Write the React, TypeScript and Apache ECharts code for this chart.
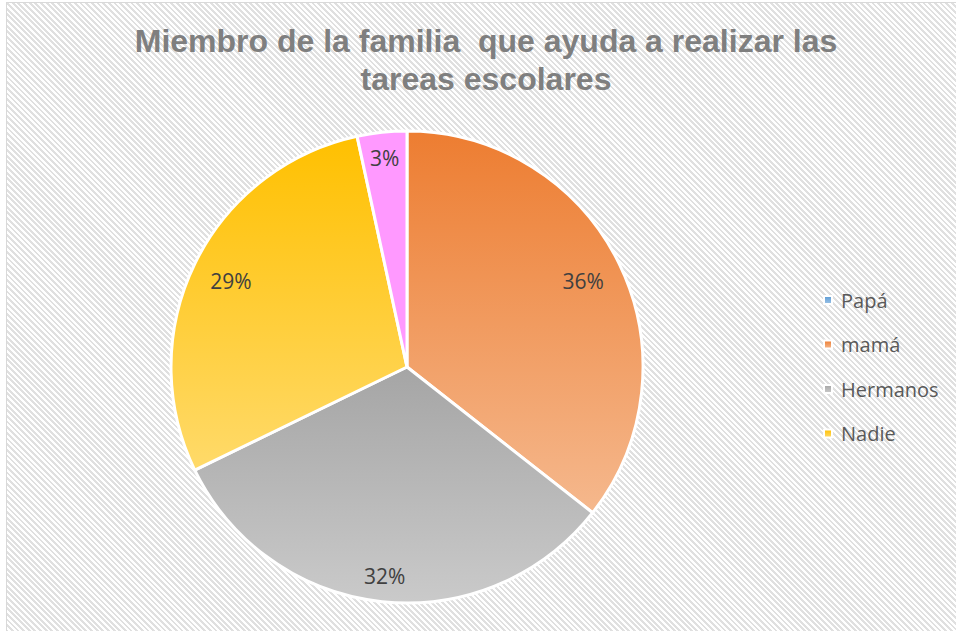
import React, { useEffect, useRef } from "react";
import * as echarts from "echarts";

const titleText = "Miembro de la familia  que ayuda a realizar las\ntareas escolares";
const categories = ["Papá", "mamá", "Hermanos", "Nadie", "Otros"];
const legendNames = ["Papá", "mamá", "Hermanos", "Nadie"];
const values = [0, 21, 19, 17, 2];
const topColors = ["#5B9BD5", "#ED7D31", "#A5A5A5", "#FFC000", "#FF99FF"];
const bottomColors = ["#9DC3E6", "#F5B88D", "#CACACA", "#FFDA6A", "#FF99FF"];
const labelRadiusFactor = [0, 0.83, 0.89, 0.83, 0.89];

export default function App() {
  const ref = useRef<HTMLDivElement>(null);
  useEffect(() => {
    if (!ref.current) return;
    const chart = echarts.init(ref.current, undefined, { renderer: "svg" });
    const cx = 407;
    const cy = 367;
    const R = 236;
    const total = values.reduce((a, b) => a + b, 0);
    const data = categories.map((name, i) => ({
      name,
      value: values[i],
      itemStyle: {
        color: {
          type: "linear",
          x: 0,
          y: 0,
          x2: 0,
          y2: 1,
          colorStops: [
            { offset: 0, color: topColors[i] },
            { offset: 1, color: bottomColors[i] },
          ],
        },
      },
      label: values[i] === 0 ? { show: false } : undefined,
    }));
    chart.setOption({
      animation: false,
      backgroundColor: "transparent",
      title: {
        text: titleText,
        left: 486,
        top: 22,
        textAlign: "center",
        padding: 0,
        textStyle: {
          fontFamily: "Liberation Sans",
          fontWeight: "bold",
          fontSize: 32,
          lineHeight: 38,
          color: "#7F7F7F",
        },
      },
      legend: {
        data: legendNames,
        orient: "vertical",
        left: 818,
        top: 284,
        itemWidth: 8,
        itemHeight: 8,
        itemGap: 22.5,
        icon: "rect",
        textStyle: {
          fontFamily: "Open Sans",
          fontSize: 20,
          lineHeight: 22,
          color: "#595959",
          padding: [0, 0, 0, 4],
        },
      },
      series: [
        {
          type: "pie",
          center: [cx, cy],
          radius: [0, R],
          startAngle: 90,
          clockwise: true,
          data,
          itemStyle: { borderColor: "#FFFFFF", borderWidth: 3 },
          label: {
            show: true,
            position: "inside",
            formatter: (p: any) => Math.round(p.percent) + "%",
            fontFamily: "Open Sans",
            fontSize: 21,
            color: "#404040",
          },
          labelLine: { show: false },
          labelLayout: (params: any) => {
            const i = params.dataIndex;
            let before = 0;
            for (let j = 0; j < i; j++) before += values[j];
            const mid = ((before + values[i] / 2) / total) * Math.PI * 2;
            const d = labelRadiusFactor[i] * R;
            return {
              x: cx + Math.sin(mid) * d,
              y: cy - Math.cos(mid) * d,
              align: "center",
              verticalAlign: "middle",
            };
          },
        },
      ],
    });
    return () => chart.dispose();
  }, []);
  return (
    <div
      style={{
        position: "fixed",
        left: 0,
        top: 0,
        width: 956,
        height: 631,
        overflow: "hidden",
        background: "#ffffff",
      }}
    >
      <div
        style={{
          position: "absolute",
          left: 6,
          top: 2,
          width: 1000,
          height: 700,
          border: "1px solid #D9D9D9",
          backgroundImage:
            "repeating-linear-gradient(45deg, #ffffff 0px, #ffffff 2px, #E0E0E0 2px, #E0E0E0 4px)",
        }}
      />
      <div ref={ref} style={{ position: "absolute", left: 0, top: 0, width: 956, height: 631 }} />
    </div>
  );
}
